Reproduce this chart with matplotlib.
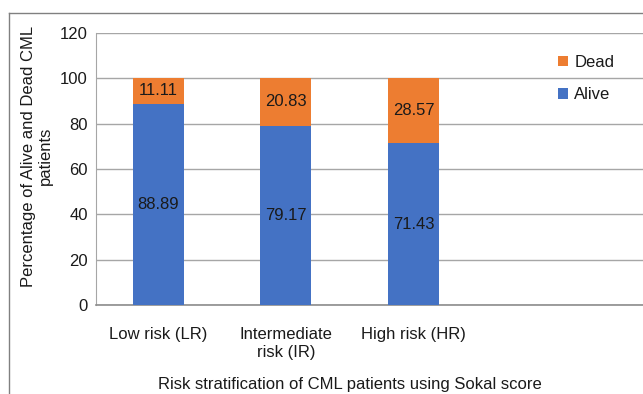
import matplotlib
matplotlib.use('Agg')
from matplotlib import pyplot as plt
from matplotlib.lines import Line2D
import numpy as np

plt.rcParams['font.family'] = ['Liberation Sans', 'DejaVu Sans']
plt.rcParams['font.size'] = 12

# data
categories = ['Low risk (LR)', 'Intermediate\nrisk (IR)', 'High risk (HR)']
alive = [88.89, 79.17, 71.43]
dead = [11.11, 20.83, 28.57]
yticks = [0, 20, 40, 60, 80, 100, 120]

blue = '#4472C4'
orange = '#ED7D31'
txt = '#1a1a1a'

fig = plt.figure(figsize=(6.43, 3.94), dpi=100)
ax = fig.add_axes([96/643, 1 - 305/394, 1 - 96/643, (305 - 33)/394])

x = np.arange(len(categories))
b1 = ax.bar(x, alive, width=0.4, color=blue, label='Alive', zorder=3)
b2 = ax.bar(x, dead, width=0.4, bottom=alive, color=orange, label='Dead', zorder=3)

for i in range(len(x)):
    ax.text(x[i], alive[i] / 2, '%.2f' % alive[i], ha='center', va='center', color=txt, zorder=4)
    ax.text(x[i], alive[i] + dead[i] / 2, '%.2f' % dead[i], ha='center', va='center', color=txt, zorder=4)

ax.set_xlim(-0.49, 3.80)
ax.set_ylim(0, 120)
ax.set_yticks(yticks)
ax.set_xticks(x)
ax.set_xticklabels(categories, color=txt, linespacing=1.25)
ax.tick_params(axis='both', length=0, colors=txt)
ax.tick_params(axis='y', pad=6)
ax.tick_params(axis='x', pad=15.5)
ax.grid(axis='y', color='#A6A6A6', linewidth=1.0, zorder=0)
for s in ['top', 'right']:
    ax.spines[s].set_visible(False)
ax.spines['left'].set_color('#A6A6A6')
ax.spines['bottom'].set_color('#8C8C8C')
ax.spines['bottom'].set_linewidth(1.2)

fig.text(37/643, 1 - 156/394, 'Percentage of Alive and Dead CML\npatients', rotation=90,
         ha='center', va='center', multialignment='center', color=txt, linespacing=1.2)
fig.text(350/643, 1 - 384/394, 'Risk stratification of CML patients using Sokal score',
         ha='center', va='center', color=txt)

leg = ax.legend(handles=[b2, b1], labels=['Dead', 'Alive'], loc='upper left',
                bbox_to_anchor=(546/643, 1 - 43/394), bbox_transform=fig.transFigure,
                frameon=False, handlelength=0.6, handleheight=0.6, handletextpad=0.4,
                labelspacing=1.05, borderpad=0.2)
for t in leg.get_texts():
    t.set_color(txt)

# outer chart frame
fig.add_artist(Line2D([9/643, 9/643], [0, 1 - 13/394], transform=fig.transFigure, color='#808080', lw=1))
fig.add_artist(Line2D([9/643, 1], [1 - 13/394, 1 - 13/394], transform=fig.transFigure, color='#808080', lw=1))

fig.savefig('out.png', dpi=100)
